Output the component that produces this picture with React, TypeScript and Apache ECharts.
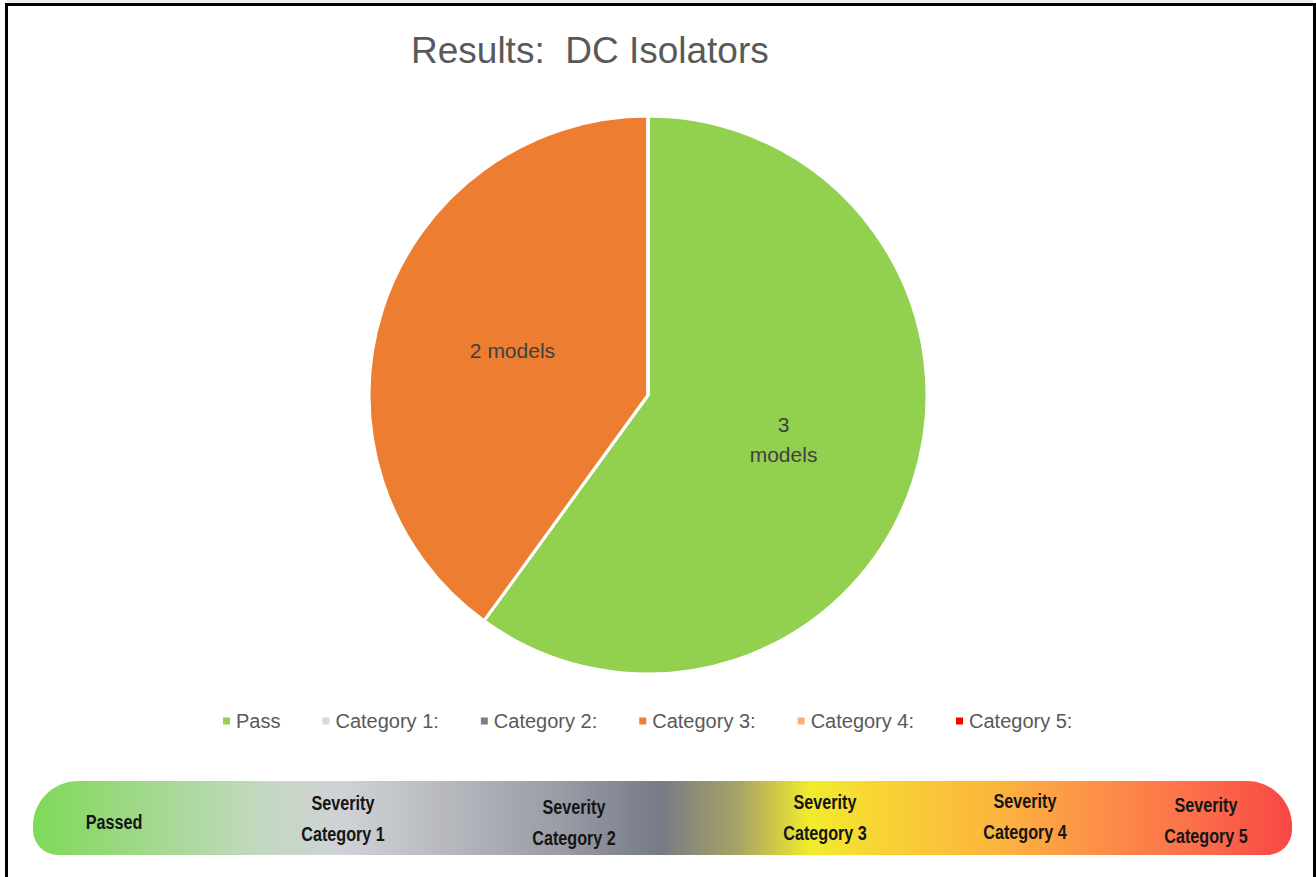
import React, { useEffect, useRef } from "react";
import * as echarts from "echarts";

const titleText = "Results:  DC Isolators";
const categories = ["Pass", "Category 1:", "Category 2:", "Category 3:", "Category 4:", "Category 5:"];
const values = [3, 0, 0, 2, 0, 0];
const labels = ["3\nmodels", "", "", "2 models", "", ""];
const colors = ["#92D050", "#D9D9D9", "#7F7F7F", "#ED7D31", "#F4B183", "#FF0000"];
const scaleLabels = [
  "Passed",
  "Severity\nCategory 1",
  "Severity\nCategory 2",
  "Severity\nCategory 3",
  "Severity\nCategory 4",
  "Severity\nCategory 5",
];
const scaleLabelPos = [
  [114, 822],
  [343, 818],
  [574, 822],
  [825, 817],
  [1025, 816],
  [1206, 820],
];
const scaleStops = [
  [0, "#7ED957"],
  [0.093, "#A2D88D"],
  [0.18, "#C3D8C0"],
  [0.244, "#CFD2D6"],
  [0.331, "#B6B8BE"],
  [0.418, "#9A9CA6"],
  [0.498, "#767B86"],
  [0.561, "#A8A464"],
  [0.617, "#F2EC2C"],
  [0.673, "#F8D335"],
  [0.768, "#FCB43E"],
  [0.848, "#FD8E48"],
  [0.927, "#FB6E4A"],
  [1, "#F84545"],
];

export default function App() {
  const ref = useRef<HTMLDivElement>(null);
  useEffect(() => {
    if (!ref.current) return;
    const chart = echarts.init(ref.current, null, { renderer: "svg" });
    const data = categories.map((name, i) => ({
      name,
      value: values[i],
      itemStyle: { color: colors[i] },
      label: { show: labels[i] !== "", formatter: labels[i] || " " },
    }));
    chart.setOption({
      animation: false,
      backgroundColor: "#ffffff",
      title: {
        text: titleText,
        left: 406,
        top: 27,
        textStyle: {
          fontFamily: "Liberation Sans, Arial, sans-serif",
          fontSize: 37,
          fontWeight: "normal",
          color: "#595959",
        },
      },
      legend: {
        data: categories,
        left: 216,
        top: 706,
        icon: "rect",
        itemWidth: 9,
        itemHeight: 9,
        itemGap: 40,
        textStyle: {
          fontFamily: "Liberation Sans, Arial, sans-serif",
          fontSize: 20,
          color: "#595959",
        },
      },
      series: [
        {
          type: "pie",
          center: [648, 395],
          radius: [0, 279],
          startAngle: 90,
          clockwise: true,
          avoidLabelOverlap: false,
          itemStyle: { borderColor: "#ffffff", borderWidth: 3 },
          label: {
            position: "inside",
            color: "#404040",
            fontFamily: "Liberation Sans, Arial, sans-serif",
            fontSize: 21,
            lineHeight: 30,
            align: "center",
          },
          labelLine: { show: false },
          emphasis: { disabled: true },
          data,
        },
      ],
      graphic: [
        { type: "rect", shape: { x: 7, y: 0, width: 1306, height: 3 }, style: { fill: "#EFEFEF" } },
        { type: "rect", shape: { x: 5, y: 3, width: 1311, height: 3 }, style: { fill: "#000000" } },
        { type: "rect", shape: { x: 5, y: 3, width: 3, height: 874 }, style: { fill: "#000000" } },
        { type: "rect", shape: { x: 1313, y: 3, width: 3, height: 874 }, style: { fill: "#000000" } },
        {
          type: "rect",
          shape: { x: 33, y: 781, width: 1259, height: 74, r: [45, 45, 25, 25] },
          style: {
            fill: new echarts.graphic.LinearGradient(
              0,
              0,
              1,
              0,
              scaleStops.map(([offset, color]) => ({ offset: offset as number, color: color as string }))
            ),
          },
        },
        ...scaleLabels.map((t, i) => ({
          type: "text",
          x: scaleLabelPos[i][0],
          y: scaleLabelPos[i][1],
          scaleX: 0.77,
          style: {
            text: t,
            fill: "#151515",
            font: "bold 21px 'Liberation Sans', Arial, sans-serif",
            lineHeight: 31,
            align: "center",
            verticalAlign: "middle",
          },
        })),
      ],
    });
    return () => chart.dispose();
  }, []);
  return (
    <div
      ref={ref}
      style={{ position: "absolute", left: 0, top: 0, width: 1316, height: 877 }}
    />
  );
}
